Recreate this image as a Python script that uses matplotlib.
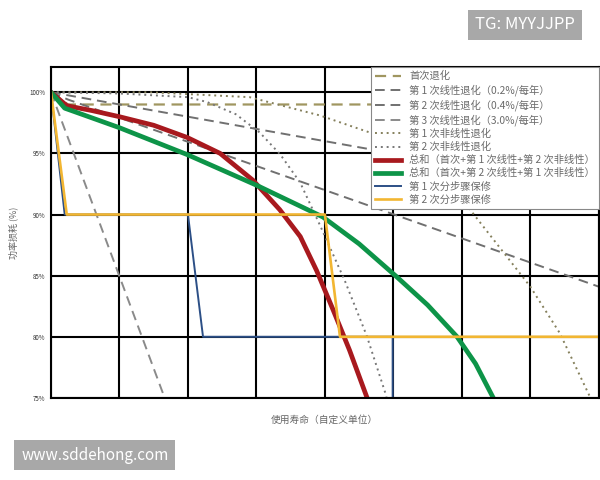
import matplotlib
matplotlib.use('Agg')
import matplotlib.pyplot as plt

plt.rcParams['font.family'] = ['Noto Sans CJK SC', 'DejaVu Sans']

# data (x in custom life units, y in % power)
initial_x = [0, 0.25, 8]
initial_y = [100, 99, 99]

lin1_x = [0, 8]
lin1_y = [100, 92]

lin2_x = [0, 0.25, 8]
lin2_y = [100, 99.4, 84.1]

lin3_x = [0, 1.66]
lin3_y = [100, 75]

nonlin1_x = [0, 1.45, 2.9, 3.93, 4.66, 5.4, 6.12, 7.0, 7.43, 7.87]
nonlin1_y = [100, 100, 99.6, 98.1, 96.7, 94.0, 90.4, 84.1, 80.3, 75.1]

nonlin2_x = [0, 1.0, 2.0, 2.28, 2.7, 3.05, 3.35, 3.64, 3.93, 4.29, 4.61, 4.9]
nonlin2_y = [100, 99.9, 99.6, 99.2, 98.2, 96.7, 94.9, 92.6, 89.1, 84.6, 80.1, 75.1]

sum1_x = [0, 0.23, 0.6, 1.0, 1.5, 1.99, 2.47, 2.95, 3.34, 3.64, 3.88, 4.12, 4.36, 4.61]
sum1_y = [100, 98.9, 98.5, 98.0, 97.3, 96.3, 95.0, 92.8, 90.4, 88.2, 85.4, 82.2, 78.9, 75.1]

sum2_x = [0, 0.2, 1.0, 1.99, 3.0, 3.97, 4.5, 5.05, 5.5, 5.93, 6.2, 6.45]
sum2_y = [100, 98.7, 97.1, 94.9, 92.4, 89.8, 87.6, 84.9, 82.6, 80.0, 77.8, 75.1]

step1_x = [0, 0.2, 2.0, 2.22, 4.99, 4.99]
step1_y = [100, 90, 90, 80, 80, 75]

step2_x = [0, 0.23, 4.0, 4.22, 8]
step2_y = [100, 90, 90, 80, 80]

labels = ['首次退化',
          '第 1 次线性退化（0.2%/每年）',
          '第 2 次线性退化（0.4%/每年）',
          '第 3 次线性退化（3.0%/每年）',
          '第 1 次非线性退化',
          '第 2 次非线性退化',
          '总和（首次+第 1 次线性+第 2 次非线性）',
          '总和（首次+第 2 次线性+第 1 次非线性）',
          '第 1 次分步骤保修',
          '第 2 次分步骤保修']

y_ticks = [75, 80, 85, 90, 95, 100]
y_ticklabels = ['75%', '80%', '85%', '90%', '95%', '100%']

fig = plt.figure(figsize=(6, 4.8), dpi=100)
ax = fig.add_axes([0.085, 0.171, 0.913, 0.689])

dash = (0, (5, 3))
dot = (0, (1, 2))
ax.plot(initial_x, initial_y, color='#a09660', lw=1.6, ls=dash, label=labels[0])
ax.plot(lin1_x, lin1_y, color='#707070', lw=1.4, ls=dash, label=labels[1])
ax.plot(lin2_x, lin2_y, color='#707070', lw=1.4, ls=dash, label=labels[2])
ax.plot(lin3_x, lin3_y, color='#8a8a8a', lw=1.4, ls=dash, label=labels[3])
ax.plot(nonlin1_x, nonlin1_y, color='#85805c', lw=1.4, ls=dot, label=labels[4])
ax.plot(nonlin2_x, nonlin2_y, color='#777777', lw=1.4, ls=dot, label=labels[5])
ax.plot(sum1_x, sum1_y, color='#a8191e', lw=3.4, label=labels[6])
ax.plot(sum2_x, sum2_y, color='#0d9448', lw=3.4, label=labels[7])
ax.plot(step1_x, step1_y, color='#2c4f86', lw=1.4, label=labels[8])
ax.plot(step2_x, step2_y, color='#f2b632', lw=1.9, label=labels[9])

ax.set_xlim(0, 8)
ax.set_ylim(75, 102.05)
ax.set_xticks(range(0, 9))
ax.set_xticklabels([])
ax.set_yticks(y_ticks)
ax.set_yticklabels(y_ticklabels, fontsize=4.5, color='#333333')
ax.tick_params(axis='both', length=0, pad=4)
ax.grid(True, color='black', lw=1.5)
ax.set_axisbelow(True)
for sp in ax.spines.values():
    sp.set_color('black')
    sp.set_linewidth(1.5)

ax.set_ylabel('功率损耗 (%)', fontsize=6.5, color='#666666', labelpad=8)
ax.set_xlabel('使用寿命（自定义单位）', fontsize=7, color='#666666', labelpad=8)

leg = ax.legend(loc='upper right', bbox_to_anchor=(1.0, 1.0), borderaxespad=0,
                fontsize=7.4, handlelength=2.5, labelspacing=0.3,
                borderpad=0.4, fancybox=False, framealpha=1,
                edgecolor='#888888')
leg.get_frame().set_linewidth(0.8)
for t in leg.get_texts():
    t.set_color('#6a6a6a')

fig.text(0.875, 0.948, 'TG: MYYJJPP', fontsize=12, color='white',
         ha='center', va='center',
         bbox=dict(boxstyle='square,pad=0.4', fc='#a8a8a8', ec='none'))
fig.text(0.158, 0.052, 'www.sddehong.com', fontsize=11, color='white',
         ha='center', va='center',
         bbox=dict(boxstyle='square,pad=0.45', fc='#a8a8a8', ec='none'))

fig.savefig('out.png', dpi=100)
